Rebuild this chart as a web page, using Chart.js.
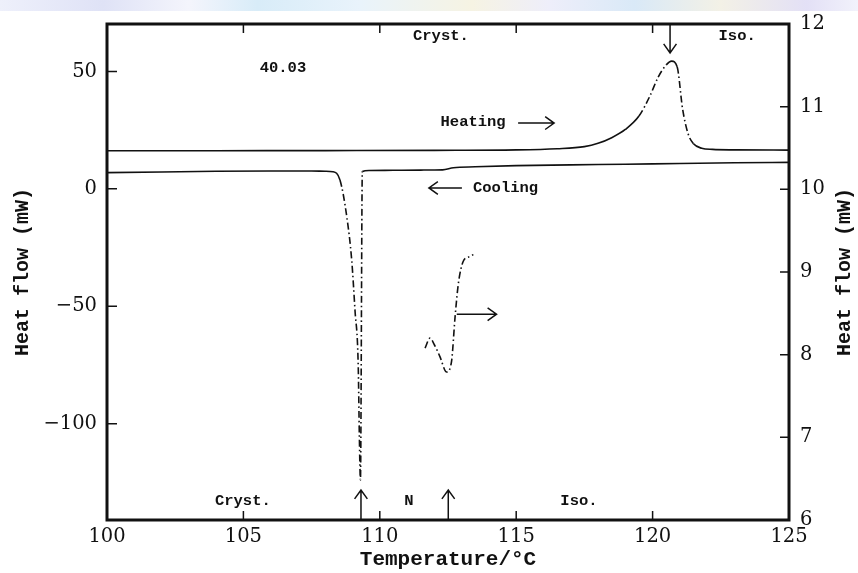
<!DOCTYPE html>
<html lang="en">
<head>
<meta charset="UTF-8">
<title>DSC 40.03</title>
<script src="https://cdn.jsdelivr.net/npm/chart.js@4.4.1/dist/chart.umd.min.js"></script>
<style>
  html, body { margin: 0; padding: 0; background: #fff; }
  #wrap { position: relative; width: 858px; height: 573px; }
  #band { position: absolute; left: 0; top: 0; width: 858px; height: 11px;
    background: linear-gradient(90deg, #eef0fb 0%, #dfe2f6 12%, #f4f5fc 22%, #d8ecf8 30%, #e9f3fb 42%,
      #f6f3e3 55%, #eeeefa 64%, #d9e9f7 74%, #f3f1e6 84%, #e3e0f6 94%, #f2f2fb 100%); }
  #myChart { position: absolute; left: 0; top: 0; }
</style>
</head>
<body>
<div id="wrap">
  <div id="band"></div>
  <canvas id="myChart" width="858" height="573"></canvas>
</div>
<script>
// heating run (left axis, mW)
const heatT = [100, 104, 108, 112, 115, 116.5, 117.5, 118, 118.5, 119, 119.5, 119.9, 120.2, 120.5, 120.7, 120.9, 121.1, 121.3, 121.5, 121.8, 122.2, 123, 125];
const heatQ = [16.2, 16.25, 16.3, 16.4, 16.6, 17.1, 18.0, 19.4, 21.8, 25.3, 31.0, 39.5, 47.5, 52.8, 54.4, 52.0, 34.0, 23.5, 19.2, 17.3, 16.8, 16.6, 16.5];

// cooling run (left axis, mW)
const coolT = [100, 102, 104, 106, 107.5, 108.0, 108.28, 108.54, 108.79, 108.97, 109.09, 109.21, 109.25, 109.29, 109.36, 109.6, 110.5, 111.5, 112.3, 112.7, 113.5, 115, 117, 119, 121, 123, 125];
const coolQ = [6.9, 7.2, 7.5, 7.6, 7.6, 7.5, 7.3, 3.8, -11.9, -30.3, -51.6, -75.7, -105, -124, 7.4, 7.8, 7.9, 8.0, 8.1, 9.0, 9.4, 9.9, 10.2, 10.5, 10.8, 11.1, 11.3];

// enlarged N-Iso transition on cooling (right axis, mW)
const insetT = [111.66, 111.84, 112.0, 112.2, 112.45, 112.63, 112.76, 112.88, 113.06, 113.25, 113.43];
const insetQ = [8.08, 8.2, 8.12, 7.98, 7.79, 7.92, 8.46, 8.86, 9.13, 9.18, 9.21];

const xTicks = [100, 105, 110, 115, 120, 125];
const leftTicks = [-100, -50, 0, 50];
const rightTicks = [6, 7, 8, 9, 10, 11, 12];

// text notes: [text, temperature, value, axis]
const notes = [
  ['40.03', 106.45, 51.3, 'y'],
  ['Cryst.', 112.24, 65.1, 'y'],
  ['Iso.', 123.1, 65.1, 'y'],
  ['Heating', 113.42, 28.5, 'y'],
  ['Cooling', 114.61, 0.4, 'y'],
  ['Cryst.', 104.98, -132.9, 'y'],
  ['N', 111.07, -132.9, 'y'],
  ['Iso.', 117.3, -132.9, 'y']
];
// arrows: [t0, v0, t1, v1, axis]  (head at t1,v1)
const arrows = [
  [115.07, 28.0, 116.39, 28.0, 'y'],
  [113.01, 0.4, 111.8, 0.4, 'y'],
  [112.82, 8.49, 114.28, 8.49, 'y2'],
  [109.31, -141, 109.31, -128.2, 'y'],
  [112.51, -141, 112.51, -128.2, 'y'],
  [120.64, 70.2, 120.64, 57.9, 'y']
];

const toXY = (xs, ys) => xs.map((x, i) => ({x: x, y: ys[i]}));
const steep = ctx => Math.abs(ctx.p1.y - ctx.p0.y) > 1.3 * Math.abs(ctx.p1.x - ctx.p0.x) ? [7, 3, 1.5, 3] : undefined;

const serif = 'DejaVu Serif';
const mono = 'Liberation Mono';

const framePlugin = {
  id: 'frame',
  afterDraw(chart) {
    const ctx = chart.ctx;
    const a = chart.chartArea;
    const sx = chart.scales.x, sy = chart.scales.y, sy2 = chart.scales.y2;
    ctx.save();
    ctx.strokeStyle = '#111';
    ctx.lineWidth = 1.5;
    ctx.beginPath();
    xTicks.forEach(v => {
      const px = sx.getPixelForValue(v);
      ctx.moveTo(px, a.bottom); ctx.lineTo(px, a.bottom - 9);
      ctx.moveTo(px, a.top); ctx.lineTo(px, a.top + 9);
    });
    leftTicks.forEach(v => {
      const py = sy.getPixelForValue(v);
      ctx.moveTo(a.left, py); ctx.lineTo(a.left + 10, py);
    });
    rightTicks.forEach(v => {
      const py = sy2.getPixelForValue(v);
      ctx.moveTo(a.right, py); ctx.lineTo(a.right - 9, py);
    });
    ctx.stroke();

    ctx.lineWidth = 3;
    ctx.strokeRect(a.left, a.top, a.right - a.left, a.bottom - a.top);

    // notes
    ctx.fillStyle = '#111';
    ctx.font = 'bold 15.5px "' + mono + '"';
    ctx.textAlign = 'center';
    ctx.textBaseline = 'middle';
    notes.forEach(n => {
      const s = chart.scales[n[3]];
      ctx.fillText(n[0], sx.getPixelForValue(n[1]), s.getPixelForValue(n[2]));
    });

    // arrows
    ctx.lineWidth = 1.5;
    arrows.forEach(r => {
      const s = chart.scales[r[4]];
      const x0 = sx.getPixelForValue(r[0]), y0 = s.getPixelForValue(r[1]);
      const x1 = sx.getPixelForValue(r[2]), y1 = s.getPixelForValue(r[3]);
      const ang = Math.atan2(y1 - y0, x1 - x0);
      const h = 11, w = 0.62;
      ctx.beginPath();
      ctx.moveTo(x0, y0); ctx.lineTo(x1, y1);
      ctx.moveTo(x1 - h * Math.cos(ang - w), y1 - h * Math.sin(ang - w));
      ctx.lineTo(x1, y1);
      ctx.lineTo(x1 - h * Math.cos(ang + w), y1 - h * Math.sin(ang + w));
      ctx.stroke();
    });

    // right axis title, reads bottom to top like the left one
    ctx.translate(845, (a.top + a.bottom) / 2);
    ctx.rotate(-Math.PI / 2);
    ctx.font = 'bold 20px "' + mono + '"';
    ctx.fillText('Heat flow (mW)', 0, 0);
    ctx.restore();
  }
};

const ctx = document.getElementById('myChart').getContext('2d');
const myChart = new Chart(ctx, {
  type: 'line',
  data: {
    datasets: [
      { label: 'Heating', data: toXY(heatT, heatQ), yAxisID: 'y' },
      { label: 'Cooling', data: toXY(coolT, coolQ), yAxisID: 'y' },
      { label: 'Cooling (enlarged)', data: toXY(insetT, insetQ), yAxisID: 'y2',
        segment: { borderDash: () => [7, 3, 1.5, 3] } }
    ]
  },
  options: {
    responsive: false,
    animation: false,
    devicePixelRatio: 1,
    layout: { padding: { top: 24, left: 0, right: 0, bottom: 0 } },
    elements: {
      point: { radius: 0 },
      line: { borderColor: '#111', borderWidth: 1.6, cubicInterpolationMode: 'monotone', fill: false }
    },
    datasets: { line: { segment: { borderDash: steep } } },
    plugins: { legend: { display: false }, tooltip: { enabled: false } },
    scales: {
      x: {
        type: 'linear', min: 100, max: 125,
        afterBuildTicks: s => { s.ticks = xTicks.map(v => ({value: v})); },
        afterFit: s => { s.height = 53; },
        grid: { display: false, drawTicks: false },
        border: { display: false },
        ticks: { color: '#111', font: { family: serif, size: 19.5 }, padding: 5, maxRotation: 0 },
        title: { display: true, text: 'Temperature/°C', color: '#111',
          font: { family: mono, size: 21, weight: 'bold' }, padding: { top: 0, bottom: 1 } }
      },
      y: {
        position: 'left', min: -141, max: 70.2,
        afterBuildTicks: s => { s.ticks = leftTicks.map(v => ({value: v})); },
        afterFit: s => { s.width = 107; },
        grid: { display: false, drawTicks: false },
        border: { display: false },
        ticks: { color: '#111', font: { family: serif, size: 19.5 }, padding: 10,
          callback: v => v < 0 ? '\u2212' + Math.abs(v) : String(v) },
        title: { display: true, text: 'Heat flow (mW)', color: '#111',
          font: { family: mono, size: 20, weight: 'bold' }, padding: { top: 11, bottom: 0 } }
      },
      y2: {
        position: 'right', min: 6, max: 12,
        afterBuildTicks: s => { s.ticks = rightTicks.map(v => ({value: v})); },
        afterFit: s => { s.width = 69; },
        grid: { display: false, drawTicks: false },
        border: { display: false },
        ticks: { color: '#111', font: { family: serif, size: 19.5 }, padding: 11 }
      }
    }
  },
  plugins: [framePlugin]
});
</script>
</body>
</html>
